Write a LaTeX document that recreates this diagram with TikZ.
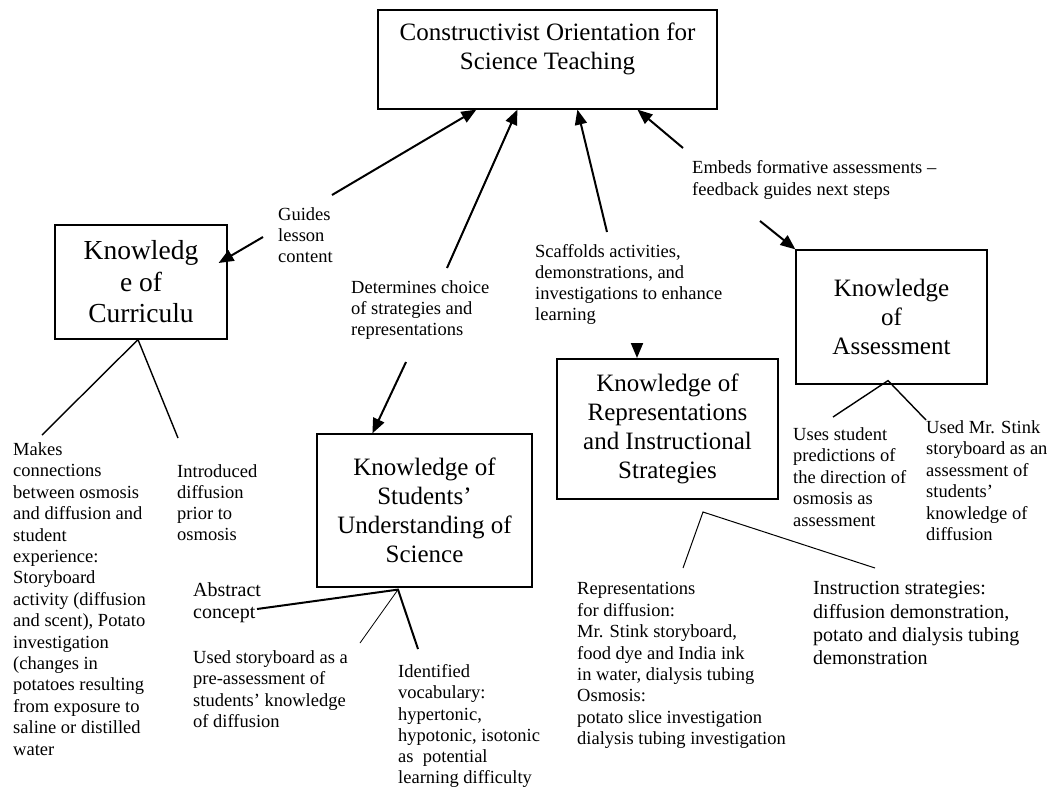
\documentclass[tikz,border=0pt]{standalone}
\usepackage{fontspec}
\setmainfont{Liberation Serif}
\usetikzlibrary{arrows.meta}

\tikzset{
  box/.style={draw, line width=1.2pt, align=center, inner sep=0pt,
    font=\fontsize{25}{29}\selectfont},
  note/.style={align=left, anchor=north west, inner sep=0pt,
    font=\fontsize{18.5}{21.4}\selectfont},
  bignote/.style={note, font=\fontsize{20}{22.5}\selectfont},
  link/.style={line width=2pt, -{Triangle[length=15pt,width=12pt]}},
  leg/.style={line width=1.4pt}
}

\begin{document}
\begin{tikzpicture}[x=1pt,y=-1pt]
\useasboundingbox (0,0) rectangle (1051,790);

% Orientation
\node[box, minimum width=339pt, minimum height=99pt] (orient) at (547.5,59.5)
  {Constructivist Orientation for\\Science Teaching\\[-3pt]\mbox{}};

% Knowledge boxes
\node[box, font=\fontsize{27.5}{31.5}\selectfont, minimum width=172pt, minimum height=114pt]
  (curric) at (141,282) {Knowledg\\e of\\Curriculu};
\node[box, minimum width=215pt, minimum height=153pt] (students) at (424.5,510.5)
  {Knowledge of\\Students'\\Understanding of\\Science};
\node[box, line width=2pt, minimum width=221pt, minimum height=140pt] (repr) at (667.5,429)
  {Knowledge of\\Representations\\and Instructional\\Strategies};
\node[box, minimum width=191pt, minimum height=134pt] (assess) at (891.5,317)
  {Knowledge\\of\\Assessment};

% Arrow labels
\node[note, font=\fontsize{18.5}{21}\selectfont] (guides) at (278,207.4) {Guides\\lesson\\content};
\node[note, font=\fontsize{18.5}{21}\selectfont] (determ) at (351,280.4)
  {Determines choice\\of strategies and\\representations};
\node[note, font=\fontsize{18.5}{21}\selectfont] (scaff) at (535,244.4)
  {Scaffolds activities,\\demonstrations, and\\investigations to enhance\\learning};
\node[note, font=\fontsize{18.5}{22}\selectfont] (embeds) at (692,160.4)
  {Embeds formative assessments --\\feedback guides next steps};

% Curriculum notes
\node[note] (makes) at (13,442.4)
  {Makes\\connections\\between osmosis\\and diffusion and\\student\\experience:\\Storyboard\\
   activity (diffusion\\and scent), Potato\\investigation\\(changes in\\potatoes resulting\\
   from exposure to\\saline or distilled\\water};
\node[note, font=\fontsize{18.5}{21}\selectfont] (introd) at (177,464.4)
  {Introduced\\diffusion\\prior to\\osmosis};

% Students notes
\node[bignote, font=\fontsize{20}{22}\selectfont] (abstr) at (193,582.3) {Abstract\\concept};
\node[note, font=\fontsize{18.5}{21.3}\selectfont] (usedsb) at (193,650.4)
  {Used storyboard as a\\pre-assessment of\\students' knowledge\\of diffusion};
\node[note, font=\fontsize{18.5}{21.2}\selectfont] (ident) at (398,664.4)
  {Identified\\vocabulary:\\hypertonic,\\hypotonic, isotonic\\as~ potential\\learning difficulty};

% Representation notes
\node[note] (reprs) at (577,582.4)
  {Representations\\for diffusion:\\Mr. Stink storyboard,\\food dye and India ink\\
   in water, dialysis tubing\\Osmosis:\\potato slice investigation\\dialysis tubing investigation};
\node[bignote, font=\fontsize{20}{23.3}\selectfont] (instr) at (813,581.3)
  {Instruction strategies:\\diffusion demonstration,\\potato and dialysis tubing\\demonstration};

% Assessment notes
\node[note, font=\fontsize{18.5}{21.5}\selectfont] (predict) at (793,427.4)
  {Uses student\\predictions of\\the direction of\\osmosis as\\assessment};
\node[note] (stink) at (926,420.4)
  {Used Mr. Stink\\storyboard as an\\assessment of\\students'\\knowledge of\\diffusion};

% Arrow tails
\coordinate (g1) at (332,195);
\coordinate (g2) at (263,237);
\coordinate (d1) at (447,268);
\coordinate (d2) at (406,362);
\coordinate (s1) at (607,232);
\coordinate (s2) at (637,343);
\coordinate (e1) at (683,148);
\coordinate (e2) at (760,221);

% Arrows
\draw[link] (g1) -- ([xshift=99pt]orient.south west);
\draw[link] (g2) -- ([xshift=-9pt,yshift=19pt]curric.east);
\draw[link] (d1) -- ([xshift=140pt]orient.south west);
\draw[link] (d2) -- ([xshift=56pt]students.north west);
\draw[link] (s1) -- ([xshift=200pt]orient.south west);
\draw[link] (s2) -- ([xshift=-30.5pt]repr.north);
\draw[link] (e1) -- ([xshift=260pt]orient.south west);
\draw[link] (e2) -- (assess.north west);

% Leg ends
\coordinate (cl) at (42,435);
\coordinate (cr) at (178,438);
\coordinate (sa) at (257,609);
\coordinate (sb) at (360,643);
\coordinate (sc) at (418,649);
\coordinate (rl) at (683,568);
\coordinate (rr) at (875,568);
\coordinate (al) at (833,417);
\coordinate (ar) at (926,420);

% Legs
\draw[leg] (cl) -- ([xshift=-3pt]curric.south) -- (cr);
\draw[leg, line width=2pt] (sa) -- ([xshift=-26.5pt,yshift=-2pt]students.south) -- (sc);
\draw[line width=0.8pt] (sb) -- ([xshift=-26.5pt,yshift=-2pt]students.south);
\draw[line width=1pt] (rl) -- ([xshift=35.5pt,yshift=-12pt]repr.south) -- (rr);
\draw[leg] (al) -- ([xshift=-3.5pt,yshift=4pt]assess.south) -- (ar);
\end{tikzpicture}
\end{document}
